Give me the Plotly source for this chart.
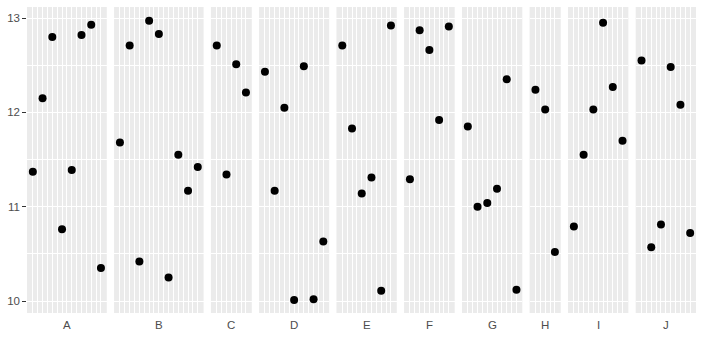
import plotly.graph_objects as go

groups = ["A", "B", "C", "D", "E", "F", "G", "H", "I", "J"]
values = {
    "A": [11.37, 12.15, 12.80, 10.76, 11.39, 12.82, 12.93, 10.35],
    "B": [11.68, 12.71, 10.42, 12.97, 12.83, 10.25, 11.55, 11.17, 11.42],
    "C": [12.71, 11.34, 12.51, 12.21],
    "D": [12.43, 11.17, 12.05, 10.01, 12.49, 10.02, 10.63],
    "E": [12.71, 11.83, 11.14, 11.31, 10.11, 12.92],
    "F": [11.29, 12.87, 12.66, 11.92, 12.91],
    "G": [11.85, 11.00, 11.04, 11.19, 12.35, 10.12],
    "H": [12.24, 12.03, 10.52],
    "I": [10.79, 11.55, 12.03, 12.95, 12.27, 11.70],
    "J": [12.55, 10.57, 10.81, 12.48, 12.08, 10.72],
}
y_ticks = [10, 11, 12, 13]

W, H = 703, 347
ml, mr, mt, mb = 27, 7, 7, 34
plot_w = W - ml - mr
gap_px = 7.3
units = [len(values[g]) - 1 + 1.2 for g in groups]
unit_px = (plot_w - gap_px * (len(groups) - 1)) / sum(units)

fig = go.Figure()
layout = {}
pos = 0.0
annotations = []
for i, g in enumerate(groups):
    n = len(values[g])
    xs = list(range(1, n + 1))
    axname = "x" if i == 0 else f"x{i+1}"
    layname = "xaxis" if i == 0 else f"xaxis{i+1}"
    fig.add_trace(go.Scatter(
        x=xs, y=values[g], mode="markers",
        marker=dict(color="black", size=8),
        xaxis=axname, yaxis="y", showlegend=False, hoverinfo="x+y"))
    w = units[i] * unit_px
    d0 = pos / plot_w
    d1 = (pos + w) / plot_w
    pos += w + gap_px
    layout[layname] = dict(
        domain=[d0, min(d1, 1.0)], anchor="y",
        range=[0.4, n + 0.6],
        tickmode="linear", tick0=1, dtick=1,
        showticklabels=False, ticks="",
        showgrid=True, gridcolor="white", gridwidth=1.07,
        minor=dict(dtick=0.5, tick0=0.5, showgrid=True, gridcolor="white", gridwidth=0.53),
        zeroline=False, showline=False, fixedrange=True,
    )
    annotations.append(dict(
        text=g, xref=f"{axname} domain", x=0.5, yref="paper", y=0,
        yanchor="top", xanchor="center", yshift=-4, showarrow=False,
        font=dict(family="Liberation Sans, Arial", size=11.5, color="#4D4D4D")))

fig.update_layout(**layout)
fig.update_layout(
    width=W, height=H,
    margin=dict(l=ml, r=mr, t=mt, b=mb, pad=0),
    paper_bgcolor="white", plot_bgcolor="#EBEBEB",
    yaxis=dict(
        range=[9.873, 13.117], tickvals=y_ticks, ticktext=[str(v) for v in y_ticks],
        ticks="outside", ticklen=3.7, tickwidth=1.07, tickcolor="#333333",
        tickfont=dict(family="Liberation Sans, Arial", size=11.5, color="#4D4D4D"),
        showgrid=True, gridcolor="white", gridwidth=1.07,
        minor=dict(dtick=0.5, tick0=0.5, showgrid=True, gridcolor="white", gridwidth=0.53),
        zeroline=False, showline=False, anchor="x", fixedrange=True,
    ),
    annotations=annotations,
    showlegend=False,
)
fig.write_html("out.html")
